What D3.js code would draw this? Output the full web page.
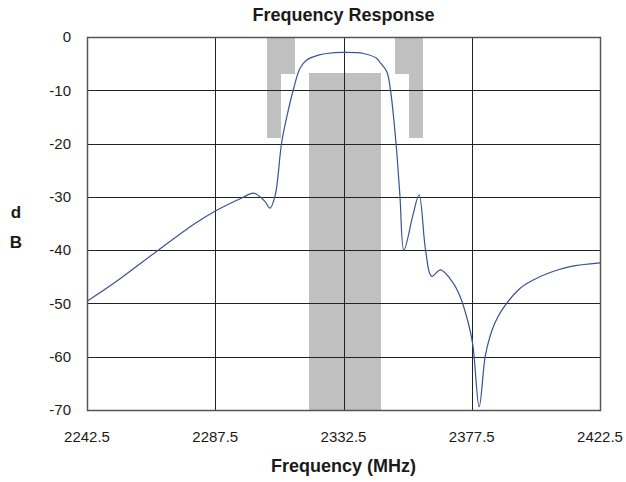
<!DOCTYPE html>
<html>
<head>
<meta charset="utf-8">
<script src="https://cdn.jsdelivr.net/npm/d3@7"></script>
<style>
  body { margin: 0; background: #fff; }
  text { font-family: "Liberation Sans", Arial, sans-serif; fill: #1a1a1a; }
</style>
</head>
<body>
<script>
// response curve
var freq = [2242.5, 2253.5, 2267.5, 2280.4, 2287.7, 2296.8, 2300.9, 2303.2, 2305.0, 2306.7,
            2308.5, 2310.8, 2312.8, 2314.9, 2317.2, 2319.6, 2323.7, 2326.6, 2332.4, 2339.5,
            2344.1, 2345.5, 2347.7, 2349.0, 2350.9, 2352.3, 2353.7, 2357.0, 2359.0, 2361.3,
            2363.4, 2366.6, 2371.0, 2373.4, 2375.7, 2377.8, 2380.1, 2382.2, 2383.9, 2385.7,
            2388.0, 2394.4, 2399.1, 2405.0, 2412.0, 2422.5];
var dB = [-49.6, -45.6, -40.0, -35.0, -32.6, -30.2, -29.3, -30.0, -30.9, -32.1,
          -29.8, -19.8, -14.5, -9.9, -5.9, -4.3, -3.4, -3.1, -2.9, -3.1,
          -4.0, -4.9, -6.5, -10.0, -19.8, -29.8, -40.0, -33.1, -29.6, -40.0,
          -44.9, -43.7, -46.2, -48.7, -52.5, -57.5, -69.4, -60.0, -56.2, -53.6,
          -51.3, -47.2, -45.6, -44.2, -43.1, -42.4];

// spec mask (grey blocks): [f1, f2, top dB, bottom dB]
var maskBlocks = [
  [2320.5, 2345.5, -6.7, -70],
  [2305.5, 2315.5, 0, -7],
  [2305.5, 2310.5, -7, -19],
  [2350.5, 2360.5, 0, -7],
  [2355.5, 2360.5, -7, -19]
];

var xTicks = [2242.5, 2287.5, 2332.5, 2377.5, 2422.5];
var yTicks = [0, -10, -20, -30, -40, -50, -60, -70];

var W = 626, H = 482;
var pL = 87, pR = 600, pT = 37, pB = 410;

var svg = d3.select("body").append("svg").attr("width", W).attr("height", H);

var x = d3.scaleLinear().domain([2242.5, 2422.5]).range([pL, pR]);
var y = d3.scaleLinear().domain([-70, 0]).range([pB, pT]);

// mask
svg.selectAll("rect.mask")
  .data(maskBlocks)
  .enter().append("rect")
    .attr("class", "mask")
    .attr("x", function(d){ return Math.round(x(d[0])); })
    .attr("width", function(d){ return Math.round(x(d[1])) - Math.round(x(d[0])); })
    .attr("y", function(d){ return Math.round(y(d[2])); })
    .attr("height", function(d){ return Math.round(y(d[3])) - Math.round(y(d[2])); })
    .attr("fill", "#c0c0c0")
    .attr("shape-rendering", "crispEdges");

// grid
svg.selectAll("line.hgrid")
  .data(yTicks)
  .enter().append("line")
    .attr("class", "hgrid")
    .attr("x1", pL).attr("x2", pR)
    .attr("y1", function(d){ return Math.round(y(d)) + 0.5; })
    .attr("y2", function(d){ return Math.round(y(d)) + 0.5; })
    .attr("stroke", "#222")
    .attr("stroke-width", 1);

svg.selectAll("line.vgrid")
  .data(xTicks)
  .enter().append("line")
    .attr("class", "vgrid")
    .attr("y1", pT).attr("y2", pB)
    .attr("x1", function(d){ return Math.round(x(d)) + 0.5; })
    .attr("x2", function(d){ return Math.round(x(d)) + 0.5; })
    .attr("stroke", "#222")
    .attr("stroke-width", 1);

svg.append("rect")
  .attr("x", pL + 0.5).attr("y", pT + 0.5)
  .attr("width", pR - pL).attr("height", pB - pT)
  .attr("fill", "none")
  .attr("stroke", "#555")
  .attr("stroke-width", 1.5);

// curve
var pts = freq.map(function(f, i){ return [f, dB[i]]; });
var line = d3.line()
  .x(function(d){ return x(d[0]); })
  .y(function(d){ return y(d[1]); })
  .curve(d3.curveCatmullRom.alpha(0.5));

svg.append("path")
  .datum(pts)
  .attr("d", line)
  .attr("fill", "none")
  .attr("stroke", "#3b5294")
  .attr("stroke-width", 1.2);

// tick labels
svg.selectAll("text.xt")
  .data(xTicks)
  .enter().append("text")
    .attr("class", "xt")
    .attr("x", function(d){ return x(d); })
    .attr("y", 442)
    .attr("text-anchor", "middle")
    .attr("font-size", 15)
    .text(function(d){ return d3.format(".1f")(d); });

svg.selectAll("text.yt")
  .data(yTicks)
  .enter().append("text")
    .attr("class", "yt")
    .attr("x", 71)
    .attr("y", function(d){ return y(d); })
    .attr("dy", "0.35em")
    .attr("text-anchor", "end")
    .attr("font-size", 15)
    .text(function(d){ return d; });

// titles
svg.append("text")
  .attr("x", (pL + pR) / 2)
  .attr("y", 21)
  .attr("text-anchor", "middle")
  .attr("font-size", 18)
  .attr("font-weight", "bold")
  .text("Frequency Response");

svg.append("text")
  .attr("x", (pL + pR) / 2)
  .attr("y", 472)
  .attr("text-anchor", "middle")
  .attr("font-size", 18)
  .attr("font-weight", "bold")
  .text("Frequency (MHz)");

svg.append("text")
  .attr("text-anchor", "middle")
  .attr("font-size", 17)
  .attr("font-weight", "bold")
  .selectAll("tspan")
  .data(["d", "B"])
  .enter().append("tspan")
    .attr("x", 16)
    .attr("y", function(d, i){ return 218 + i * 30; })
    .text(function(d){ return d; });
</script>
</body>
</html>
